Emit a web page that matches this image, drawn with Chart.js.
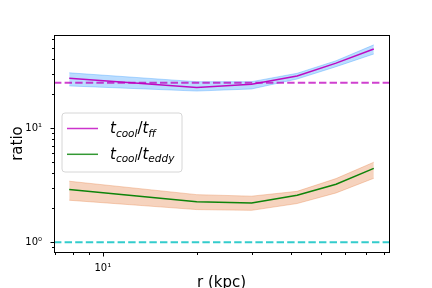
<!DOCTYPE html>
<html>
<head>
<meta charset="utf-8">
<script src="https://cdn.jsdelivr.net/npm/chart.js@4.4.0/dist/chart.umd.min.js"></script>
<style>
  body { margin: 0; background: #fff; }
  canvas { display: block; }
</style>
</head>
<body>
<canvas id="ratioChart" width="432" height="288"></canvas>
<script>
// radii (kpc)
const radii = [7.8, 20, 30, 42, 56, 74];

// t_cool / t_ff  (median + spread)
const ffMid = [27.3, 22.7, 24.2, 28.6, 37.1, 49.3];
const ffHigh = [30.5, 25.5, 25.5, 30.2, 38.9, 53.6];
const ffLow = [23.4, 21.1, 22.0, 26.9, 34.5, 44.6];

// t_cool / t_eddy
const eddyMid = [2.89, 2.26, 2.20, 2.58, 3.22, 4.43];
const eddyHigh = [3.42, 2.61, 2.53, 2.79, 3.61, 5.02];
const eddyLow = [2.33, 1.93, 1.90, 2.18, 2.70, 3.63];

// dashed reference levels
const ffLevel = 25;
const eddyLevel = 1;

// axis limits and ticks
const xRange = [6.97, 82.8];
const yRange = [0.82, 65.4];
const xTicks = [7, 8, 9, 10, 20, 30, 40, 50, 60, 70, 80];
const yTicks = [0.9, 1, 2, 3, 4, 5, 6, 7, 8, 9, 10, 20, 30, 40, 50, 60];
const tickLabels = { 1: '10⁰', 10: '10¹' };

const FONT = '"DejaVu Sans", sans-serif';

const pts = ys => radii.map((r, i) => ({ x: r, y: ys[i] }));
const hline = v => [{ x: xRange[0], y: v }, { x: xRange[1], y: v }];

function lineSet(data, color, width, dash) {
    return {
        data: data, borderColor: color, borderWidth: width, borderDash: dash || [],
        pointRadius: 0, fill: false, tension: 0
    };
}

function bandSet(data, color, fill) {
    return {
        data: data, borderColor: color, backgroundColor: color, borderWidth: 1,
        pointRadius: 0, fill: fill, tension: 0
    };
}

// italic math-ish text, like matplotlib's $t_{cool}/t_{ff}$
function drawMath(ctx, x, y, parts) {
    parts.forEach(([txt, sub, upright]) => {
        const size = sub ? 10.5 : 15;
        ctx.font = (upright ? '' : 'italic ') + size + 'px ' + FONT;
        ctx.fillText(txt, x, sub ? y + 3.5 : y);
        x += ctx.measureText(txt).width;
    });
}

const legendItems = [
    { color: 'rgba(191,0,191,0.8)', parts: [['t'], ['cool', true], ['/', false, true], ['t'], ['ff', true]] },
    { color: 'rgba(0,128,0,0.8)', parts: [['t'], ['cool', true], ['/', false, true], ['t'], ['eddy', true]] }
];

const axesDecor = {
    id: 'axesDecor',
    afterDraw(chart) {
        const ctx = chart.ctx;
        const a = chart.chartArea;
        const xs = chart.scales.x, ys = chart.scales.y;
        ctx.save();

        // frame
        ctx.strokeStyle = '#000';
        ctx.lineWidth = 1;
        ctx.strokeRect(a.left + 0.5, a.top + 0.5, a.right - a.left, a.bottom - a.top);

        // tick marks (major longer than minor)
        ctx.beginPath();
        xTicks.forEach(v => {
            const px = Math.round(xs.getPixelForValue(v)) + 0.5;
            const len = tickLabels[v] ? 3.5 : 2;
            ctx.moveTo(px, a.bottom + 1);
            ctx.lineTo(px, a.bottom + 1 + len);
        });
        yTicks.forEach(v => {
            const py = Math.round(ys.getPixelForValue(v)) + 0.5;
            const len = tickLabels[v] ? 3.5 : 2;
            ctx.moveTo(a.left, py);
            ctx.lineTo(a.left - len, py);
        });
        ctx.stroke();

        // axis titles
        ctx.fillStyle = '#000';
        ctx.font = '15px ' + FONT;
        ctx.textAlign = 'center';
        ctx.textBaseline = 'top';
        ctx.fillText('r (kpc)', (a.left + a.right) / 2, 276);
        ctx.save();
        ctx.translate(18, (a.top + a.bottom) / 2);
        ctx.rotate(-Math.PI / 2);
        ctx.textBaseline = 'middle';
        ctx.fillText('ratio', 0, 0);
        ctx.restore();

        // legend
        const bx = 62, by = 113, bw = 120, bh = 59, r = 3;
        ctx.beginPath();
        ctx.moveTo(bx + r, by);
        ctx.arcTo(bx + bw, by, bx + bw, by + bh, r);
        ctx.arcTo(bx + bw, by + bh, bx, by + bh, r);
        ctx.arcTo(bx, by + bh, bx, by, r);
        ctx.arcTo(bx, by, bx + bw, by, r);
        ctx.closePath();
        ctx.fillStyle = 'rgba(255,255,255,0.8)';
        ctx.fill();
        ctx.strokeStyle = '#d6d6d6';
        ctx.stroke();

        ctx.textAlign = 'left';
        ctx.textBaseline = 'alphabetic';
        legendItems.forEach((item, i) => {
            const ly = 128.5 + i * 25.8;
            ctx.strokeStyle = item.color;
            ctx.lineWidth = 1.5;
            ctx.beginPath();
            ctx.moveTo(67, ly);
            ctx.lineTo(98, ly);
            ctx.stroke();
            ctx.fillStyle = '#000';
            drawMath(ctx, 110, ly + 4.5, item.parts);
        });
        ctx.restore();
    }
};

new Chart(document.getElementById('ratioChart'), {
    type: 'line',
    data: {
        datasets: [
            lineSet(hline(ffLevel), 'rgba(191,0,191,0.75)', 2, [7.4, 3.2]),
            lineSet(hline(eddyLevel), 'rgba(0,191,191,0.8)', 2, [7.4, 3.2]),
            lineSet(pts(ffMid), 'rgba(191,0,191,0.95)', 1.5),
            lineSet(pts(eddyMid), 'rgba(0,128,0,0.95)', 1.5),
            bandSet(pts(ffHigh), 'rgba(30,144,255,0.3)', '+1'),
            bandSet(pts(ffLow), 'rgba(30,144,255,0.3)', false),
            bandSet(pts(eddyHigh), 'rgba(228,128,70,0.35)', '+1'),
            bandSet(pts(eddyLow), 'rgba(228,128,70,0.35)', false)
        ]
    },
    options: {
        responsive: false,
        animation: false,
        devicePixelRatio: 1,
        layout: { padding: { top: 35, right: 43, left: 0, bottom: 0 } },
        plugins: { legend: { display: false }, tooltip: { enabled: false } },
        scales: {
            x: {
                type: 'logarithmic',
                min: xRange[0], max: xRange[1],
                grid: { display: false },
                border: { display: false },
                afterBuildTicks: s => { s.ticks = xTicks.map(v => ({ value: v })); },
                afterFit: s => { s.height = 36; },
                ticks: {
                    autoSkip: false, maxRotation: 0, padding: 2,
                    color: '#000', font: { family: FONT, size: 10 },
                    callback: v => tickLabels[v] || ''
                }
            },
            y: {
                type: 'logarithmic',
                min: yRange[0], max: yRange[1],
                grid: { display: false },
                border: { display: false },
                afterBuildTicks: s => { s.ticks = yTicks.map(v => ({ value: v })); },
                afterFit: s => { s.width = 54; },
                ticks: {
                    autoSkip: false, padding: 4,
                    color: '#000', font: { family: FONT, size: 10 },
                    callback: v => tickLabels[v] || ''
                }
            }
        }
    },
    plugins: [axesDecor]
});
</script>
</body>
</html>
